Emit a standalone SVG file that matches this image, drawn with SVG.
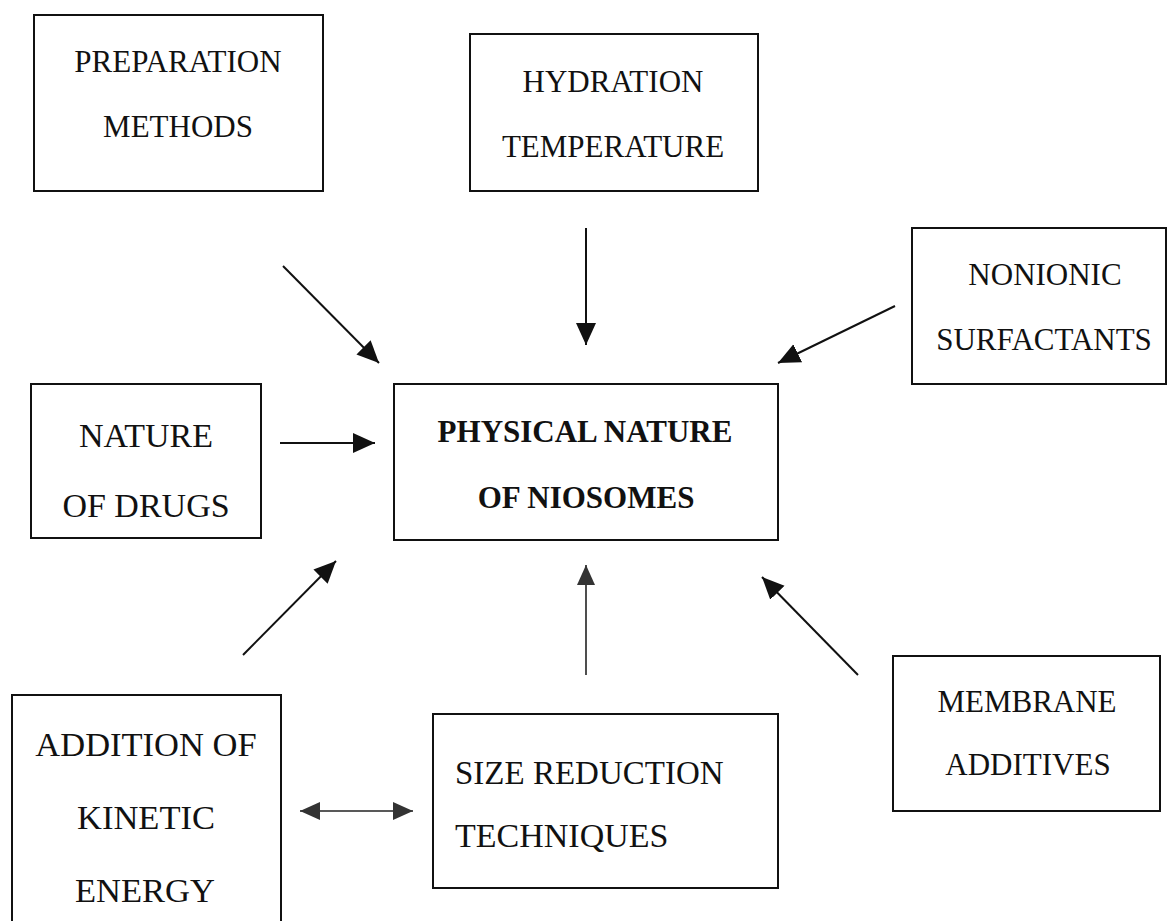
<svg xmlns="http://www.w3.org/2000/svg" width="1168" height="921" viewBox="0 0 1168 921">
<defs>
<style>
.box{fill:#fff;stroke:#111;stroke-width:2}
.t{font-family:"Liberation Serif","Times New Roman",serif;font-size:31px;fill:#111;text-anchor:middle}
.b{font-weight:bold}
.c{stroke:#111;stroke-width:2;fill:none}
.cs{stroke:#222;stroke-width:1.6;fill:none}
</style>
<marker id="ah" markerUnits="userSpaceOnUse" markerWidth="24" markerHeight="22" refX="22" refY="10" orient="auto">
<path d="M0,0 L22,10 L0,20 Z" fill="#111"/>
</marker>
<marker id="ahs" markerUnits="userSpaceOnUse" markerWidth="22" markerHeight="20" refX="20" refY="9" orient="auto">
<path d="M0,0 L20,9 L0,18 Z" fill="#333"/>
</marker>
<marker id="ahsr" markerUnits="userSpaceOnUse" markerWidth="22" markerHeight="20" refX="0" refY="9" orient="auto">
<path d="M20,0 L0,9 L20,18 Z" fill="#333"/>
</marker>
</defs>
<rect width="1168" height="921" fill="#fff"/>
<g id="prep">
<rect class="box" x="34" y="15" width="289" height="176"/>
<text class="t" x="178" y="72">PREPARATION</text>
<text class="t" x="178" y="137">METHODS</text>
</g>
<g id="hydration">
<rect class="box" x="470" y="34" width="288" height="157"/>
<text class="t" x="613" y="92">HYDRATION</text>
<text class="t" x="613" y="157">TEMPERATURE</text>
</g>
<g id="nonionic">
<rect class="box" x="912" y="228" width="254" height="156"/>
<text class="t" x="1045" y="285">NONIONIC</text>
<text class="t" x="1044" y="350">SURFACTANTS</text>
</g>
<g id="drugs">
<rect class="box" x="31" y="384" width="230" height="154"/>
<text class="t" x="146" y="447" style="font-size:34px">NATURE</text>
<text class="t" x="146" y="517" style="font-size:34px">OF DRUGS</text>
</g>
<g id="center">
<rect class="box" x="394" y="384" width="384" height="156"/>
<text class="t b" x="585" y="442">PHYSICAL NATURE</text>
<text class="t b" x="586" y="508">OF NIOSOMES</text>
</g>
<g id="kinetic">
<rect class="box" x="12" y="695" width="269" height="240"/>
<text class="t" x="146" y="756" style="font-size:34.5px">ADDITION OF</text>
<text class="t" x="146" y="829" style="font-size:34.5px">KINETIC</text>
<text class="t" x="145" y="902" style="font-size:34.5px">ENERGY</text>
</g>
<g id="size">
<rect class="box" x="433" y="714" width="345" height="174"/>
<text class="t" x="455" y="784" style="font-size:33px;text-anchor:start">SIZE REDUCTION</text>
<text class="t" x="455" y="847" style="font-size:34px;text-anchor:start">TECHNIQUES</text>
</g>
<g id="membrane">
<rect class="box" x="893" y="656" width="267" height="155"/>
<text class="t" x="1027" y="712">MEMBRANE</text>
<text class="t" x="1028" y="775">ADDITIVES</text>
</g>
<g id="connectors">
<line class="c" x1="283" y1="266" x2="379" y2="363" marker-end="url(#ah)"/>
<line class="c" x1="586" y1="228" x2="586" y2="345" marker-end="url(#ah)"/>
<line class="c" x1="895" y1="306" x2="778" y2="363" marker-end="url(#ah)"/>
<line class="c" x1="280" y1="443" x2="375" y2="443" marker-end="url(#ah)"/>
<line class="c" x1="243" y1="655" x2="336" y2="561" marker-end="url(#ah)"/>
<line class="c" x1="858" y1="675" x2="762" y2="577" marker-end="url(#ah)"/>
<line class="cs" x1="586" y1="675" x2="586" y2="565" marker-end="url(#ahs)"/>
<line class="cs" x1="300" y1="811" x2="413" y2="811" marker-start="url(#ahsr)" marker-end="url(#ahs)"/>
</g>
</svg>
